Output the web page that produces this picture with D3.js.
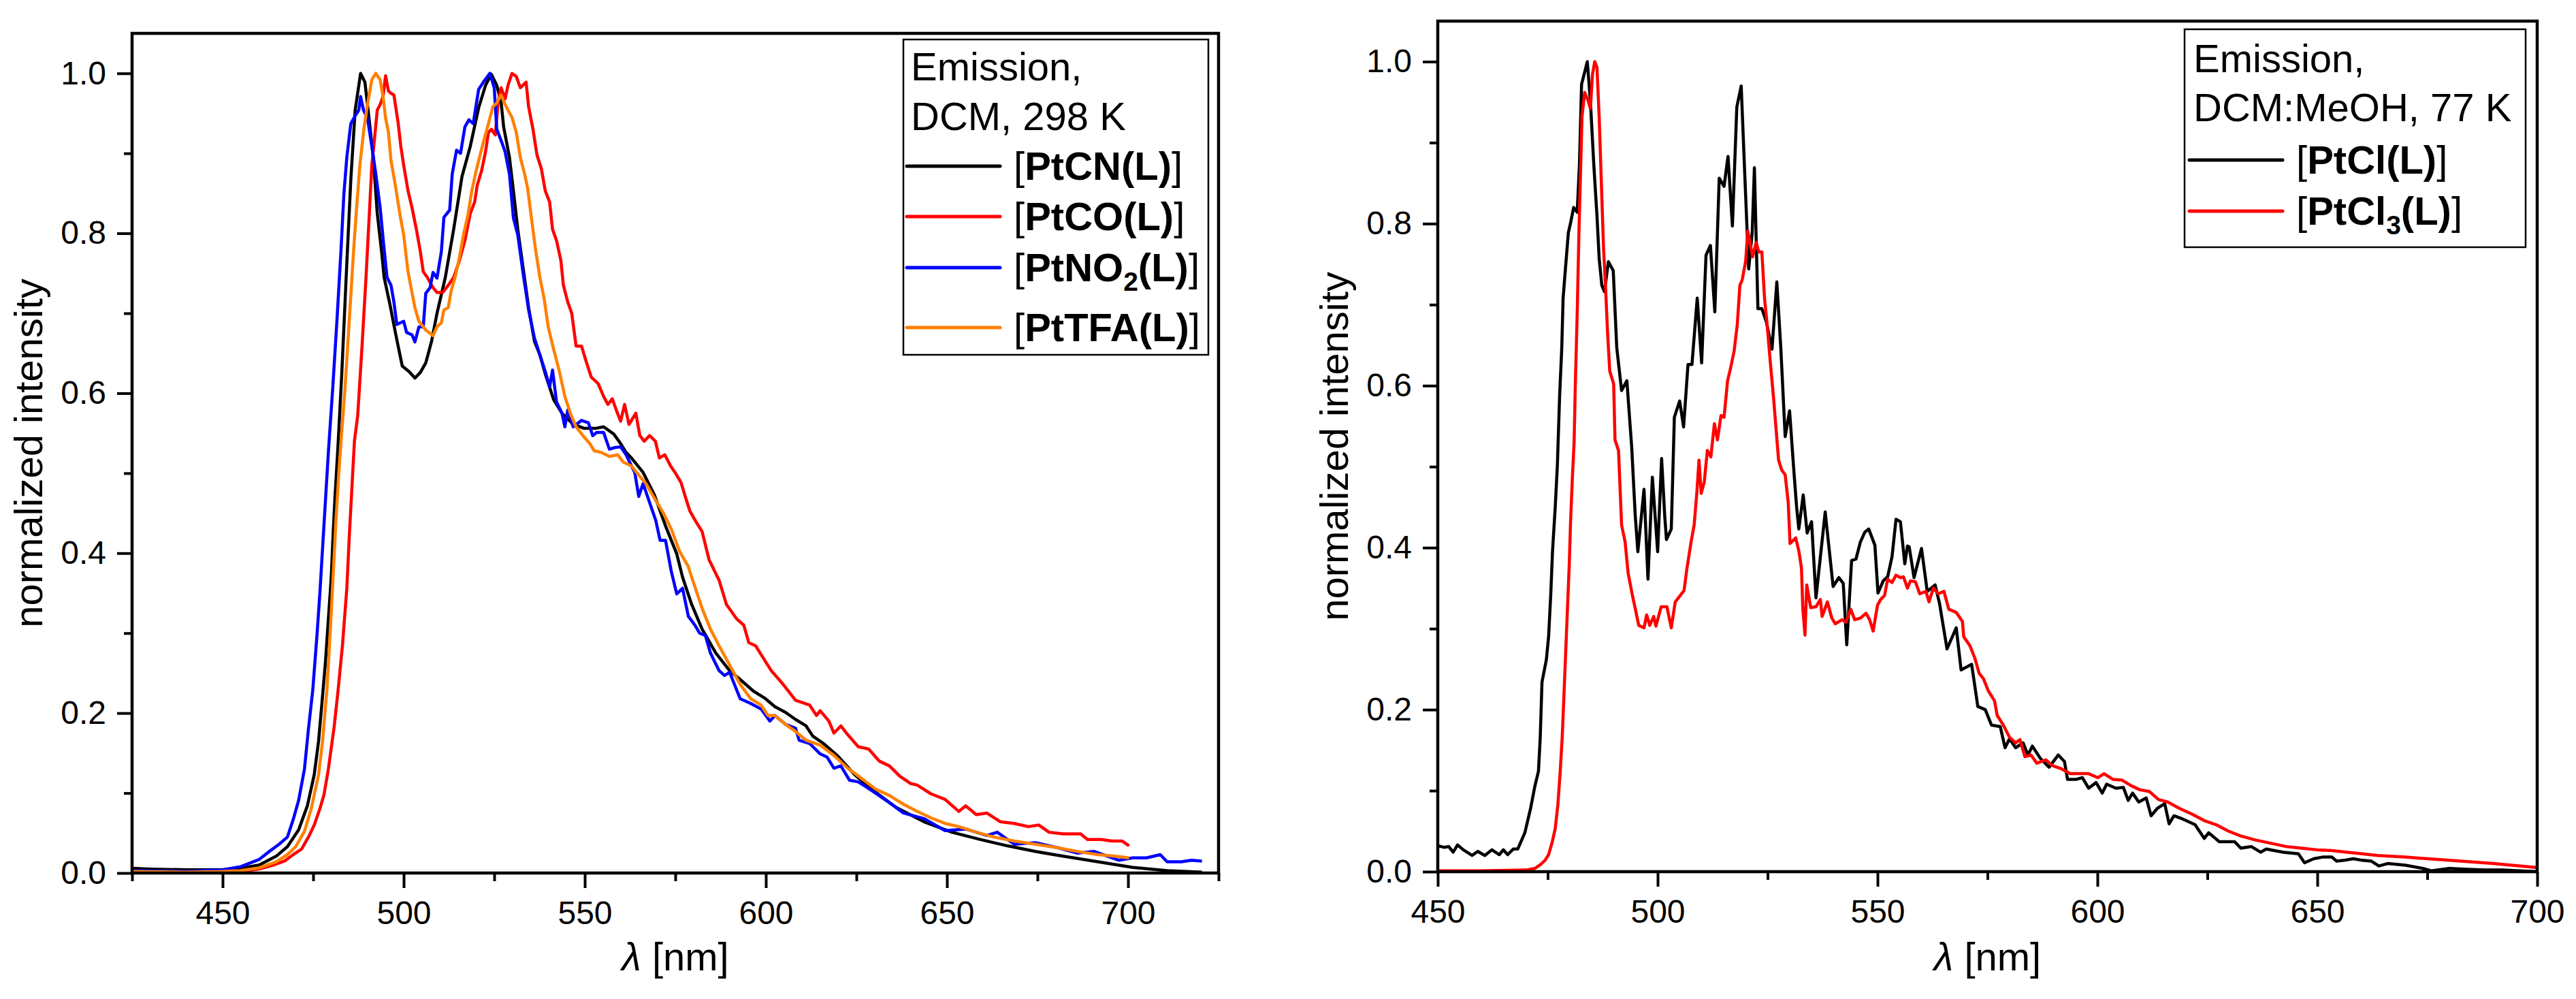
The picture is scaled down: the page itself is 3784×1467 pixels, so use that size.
<!DOCTYPE html>
<html>
<head>
<meta charset="utf-8">
<script src="https://cdn.jsdelivr.net/npm/d3@7"></script>
<style>
  body { margin: 0; background: #fff; }
  svg text { font-family: "Liberation Sans", Arial, sans-serif; }
</style>
</head>
<body>
<svg id="chart" width="3784" height="1467"></svg>
<script>
// ---- data: [wavelength nm, normalized intensity] ----
const ptCN = [[425,0.006],[430,0.005],[440,0.004],[450,0.004],[455,0.006],[460.1,0.010],[464.8,0.021],[467.9,0.033],[471.0,0.054],[473.4,0.084],[475.3,0.123],[476.5,0.165],[477.4,0.211],[478.4,0.264],[479.2,0.317],[480.0,0.370],[480.5,0.423],[481.1,0.476],[481.8,0.529],[482.9,0.624],[484.3,0.763],[485.4,0.867],[486.6,0.954],[488.1,1.0],[489.3,0.989],[490.0,0.961],[491.6,0.895],[492.7,0.825],[493.9,0.777],[494.6,0.745],[496.2,0.711],[497.7,0.676],[499.6,0.634],[501.5,0.627],[503.1,0.619],[504.6,0.626],[506.1,0.638],[507.7,0.665],[509.2,0.700],[511.5,0.745],[513.8,0.805],[516.1,0.871],[518.4,0.909],[520.7,0.957],[522.6,0.985],[524.2,0.999],[525.7,0.985],[526.9,0.964],[527.6,0.933],[529.2,0.895],[530.3,0.853],[531.5,0.805],[533.0,0.756],[534.5,0.707],[536.1,0.665],[537.6,0.648],[539.1,0.624],[541.4,0.592],[543.7,0.575],[546.8,0.561],[549.9,0.556],[552.9,0.556],[555.2,0.558],[558.0,0.549],[559.9,0.537],[561.4,0.526],[562.9,0.519],[566.1,0.501],[569.2,0.473],[572.3,0.434],[575.4,0.399],[577.0,0.370],[579.5,0.336],[582.4,0.305],[586.2,0.275],[590.0,0.253],[592.9,0.242],[596.7,0.227],[599.6,0.219],[602.5,0.208],[605.4,0.201],[608.2,0.192],[611.1,0.184],[613.0,0.171],[615.9,0.162],[619.7,0.147],[624.5,0.123],[630.3,0.101],[636.0,0.082],[643.7,0.064],[651.4,0.051],[659.1,0.042],[666.7,0.034],[674.4,0.027],[682.1,0.021],[691.7,0.014],[701.3,0.007],[710.8,0.003],[720.4,0.001]];

const ptCO = [[425,0.002],[440,0.001],[450,0.001],[455,0.002],[460.1,0.005],[464.0,0.010],[467.1,0.015],[469.5,0.023],[471.8,0.030],[473.7,0.045],[475.3,0.060],[476.9,0.081],[478.0,0.098],[479.2,0.130],[480.8,0.183],[481.9,0.229],[483.1,0.285],[484.3,0.356],[485.0,0.423],[485.8,0.490],[486.4,0.540],[487.3,0.572],[488.5,0.659],[489.6,0.745],[490.6,0.832],[491.2,0.885],[491.9,0.916],[492.7,0.954],[493.5,0.961],[494.3,0.971],[495.0,0.997],[495.8,0.978],[496.5,0.975],[497.3,0.973],[498.5,0.937],[499.2,0.909],[500.0,0.885],[501.2,0.853],[502.3,0.832],[503.5,0.805],[504.6,0.777],[505.4,0.752],[506.5,0.745],[508.1,0.732],[509.2,0.726],[510.8,0.726],[512.3,0.735],[513.8,0.745],[515.4,0.766],[516.9,0.791],[518.4,0.825],[519.6,0.839],[520.3,0.860],[521.5,0.878],[522.6,0.902],[523.4,0.926],[524.2,0.930],[525.3,0.923],[526.1,0.965],[526.9,0.982],[528.0,0.968],[528.8,0.985],[529.9,1.0],[531.1,0.996],[532.2,0.982],[533.8,0.989],[534.5,0.958],[535.7,0.930],[536.8,0.898],[538.0,0.881],[539.1,0.853],[540.3,0.839],[541.1,0.805],[542.2,0.791],[543.4,0.766],[544.1,0.735],[545.3,0.714],[546.4,0.700],[547.6,0.659],[549.1,0.659],[550.3,0.641],[551.8,0.620],[553.7,0.612],[555.2,0.596],[556.4,0.586],[557.6,0.593],[558.7,0.579],[559.9,0.565],[561.0,0.586],[562.2,0.561],[564.1,0.575],[565.2,0.547],[566.4,0.540],[567.9,0.547],[569.5,0.540],[570.6,0.519],[572.1,0.523],[573.7,0.509],[575.2,0.499],[576.6,0.488],[577.8,0.470],[579.0,0.453],[580.6,0.440],[582.4,0.427],[584.3,0.392],[587.1,0.366],[589.1,0.336],[591.9,0.318],[593.9,0.310],[595.3,0.288],[597.2,0.284],[598.7,0.273],[601.5,0.253],[604.4,0.238],[606.3,0.227],[608.2,0.216],[612.1,0.210],[614.0,0.197],[615.0,0.203],[617.4,0.190],[618.8,0.175],[620.7,0.184],[622.6,0.173],[625.5,0.158],[628.4,0.155],[631.3,0.140],[634.1,0.134],[637.0,0.121],[639.9,0.112],[641.8,0.110],[645.6,0.099],[649.5,0.092],[653.3,0.077],[655.2,0.084],[658.1,0.073],[661.0,0.075],[664.8,0.064],[668.6,0.062],[672.5,0.058],[675.4,0.060],[678.2,0.051],[682.1,0.049],[686.9,0.049],[688.8,0.042],[692.6,0.042],[695.5,0.040],[698.4,0.040],[700.3,0.034]];

const ptNO2 = [[425,0.003],[440,0.002],[450,0.004],[455,0.008],[460.1,0.017],[463.2,0.028],[465.6,0.036],[467.9,0.045],[469.5,0.067],[471.0,0.091],[472.6,0.130],[473.7,0.180],[474.9,0.229],[476.1,0.300],[476.9,0.353],[477.6,0.406],[478.4,0.466],[479.2,0.526],[480.4,0.606],[481.6,0.693],[482.7,0.780],[483.5,0.850],[484.3,0.895],[485.4,0.937],[486.6,0.947],[487.6,0.954],[488.1,0.971],[488.9,0.954],[490.0,0.944],[491.2,0.909],[492.3,0.874],[493.5,0.832],[494.6,0.780],[495.4,0.745],[496.5,0.735],[497.3,0.714],[498.1,0.686],[500.0,0.690],[500.8,0.676],[502.3,0.673],[503.1,0.664],[504.2,0.683],[505.4,0.683],[506.1,0.725],[507.3,0.732],[508.1,0.751],[509.2,0.744],[510.4,0.777],[511.1,0.820],[512.7,0.829],[513.4,0.874],[514.6,0.904],[515.7,0.900],[516.9,0.933],[518.0,0.942],[519.2,0.937],[520.7,0.980],[522.3,0.991],[523.8,1.0],[525.0,0.982],[525.7,0.930],[526.9,0.916],[528.0,0.902],[529.2,0.874],[530.3,0.819],[531.5,0.798],[533.0,0.749],[534.5,0.704],[536.1,0.669],[537.6,0.648],[539.1,0.627],[540.3,0.608],[541.1,0.629],[542.2,0.589],[543.7,0.575],[544.5,0.558],[545.3,0.579],[546.8,0.558],[549.1,0.566],[551.0,0.563],[552.2,0.547],[553.3,0.551],[555.2,0.551],[556.8,0.530],[558.3,0.532],[559.9,0.533],[561.4,0.523],[562.9,0.509],[563.8,0.501],[564.9,0.471],[566.1,0.487],[568.0,0.462],[569.6,0.441],[570.8,0.416],[572.3,0.416],[573.9,0.377],[575.4,0.349],[577.0,0.356],[578.6,0.321],[580.4,0.310],[581.7,0.300],[583.3,0.297],[584.7,0.275],[587.1,0.253],[588.6,0.247],[590.0,0.251],[592.9,0.218],[595.8,0.212],[598.7,0.205],[601.1,0.190],[602.5,0.197],[605.4,0.186],[608.2,0.181],[609.2,0.166],[612.1,0.162],[615.0,0.149],[616.9,0.145],[618.8,0.131],[620.7,0.134],[623.1,0.116],[625.5,0.114],[629.3,0.103],[634.1,0.088],[638.0,0.075],[643.7,0.068],[649.5,0.053],[655.2,0.055],[661.0,0.047],[663.9,0.051],[668.6,0.036],[674.4,0.038],[680.2,0.032],[685.9,0.025],[690.7,0.027],[697.4,0.016],[701.3,0.019],[705.1,0.019],[708.9,0.023],[710.8,0.014],[714.7,0.014],[717.5,0.016],[720.4,0.015]];

const ptTFA = [[425,0.002],[440,0.001],[450,0.002],[455,0.003],[460.1,0.0065],[464.8,0.014],[467.9,0.023],[470.2,0.033],[472.6,0.052],[474.5,0.081],[476.5,0.123],[477.6,0.165],[478.8,0.229],[479.7,0.300],[480.5,0.370],[481.3,0.441],[482.1,0.501],[482.7,0.540],[483.8,0.606],[485.0,0.693],[486.2,0.780],[487.0,0.832],[487.9,0.885],[489.0,0.930],[490.0,0.961],[491.2,0.992],[492.3,1.0],[493.5,0.992],[494.3,0.971],[495.0,0.944],[495.8,0.926],[496.5,0.891],[497.7,0.860],[498.9,0.825],[500.0,0.798],[501.2,0.752],[501.9,0.735],[503.1,0.707],[504.2,0.690],[506.1,0.679],[508.1,0.672],[509.2,0.683],[510.4,0.688],[511.1,0.704],[512.3,0.707],[513.1,0.728],[514.2,0.745],[515.4,0.770],[516.5,0.798],[517.7,0.822],[518.8,0.853],[520.0,0.878],[521.1,0.898],[522.3,0.919],[523.4,0.937],[524.6,0.958],[525.7,0.963],[526.9,0.973],[527.6,0.965],[528.8,0.954],[529.9,0.945],[531.1,0.926],[532.2,0.895],[533.4,0.874],[534.2,0.857],[535.3,0.818],[536.5,0.777],[537.6,0.745],[538.8,0.718],[539.9,0.683],[541.4,0.655],[543.0,0.627],[544.5,0.596],[546.0,0.575],[547.6,0.558],[549.5,0.547],[551.4,0.537],[552.6,0.528],[554.5,0.526],[556.8,0.521],[559.1,0.523],[560.6,0.514],[562.9,0.509],[565.2,0.496],[566.9,0.487],[569.2,0.469],[571.6,0.451],[573.9,0.430],[576.2,0.402],[578.5,0.384],[580.4,0.358],[582.4,0.331],[584.7,0.305],[587.1,0.284],[590.0,0.260],[592.9,0.236],[595.8,0.218],[598.7,0.210],[600.6,0.197],[602.5,0.197],[605.4,0.186],[608.2,0.177],[611.1,0.166],[615.0,0.160],[618.8,0.147],[622.6,0.131],[626.5,0.118],[630.3,0.105],[634.1,0.097],[638.0,0.086],[641.8,0.077],[645.6,0.069],[649.5,0.062],[653.3,0.058],[658.1,0.051],[662.9,0.045],[668.6,0.040],[674.4,0.036],[680.2,0.032],[685.9,0.027],[691.7,0.023],[696.5,0.021],[700.3,0.019]];

const ptCl = [[450,0.032],[451.5,0.030],[452.5,0.031],[453.5,0.024],[454.5,0.033],[455.8,0.027],[457.8,0.020],[459.1,0.025],[460.7,0.020],[462.3,0.027],[464.0,0.021],[464.9,0.027],[465.9,0.021],[467.2,0.028],[468.2,0.028],[469.8,0.048],[471.1,0.078],[472.1,0.106],[472.9,0.124],[473.3,0.166],[473.7,0.234],[474.7,0.262],[475.2,0.290],[475.7,0.343],[476.1,0.396],[476.7,0.449],[477.2,0.502],[477.7,0.586],[478.2,0.647],[478.5,0.708],[479.1,0.749],[479.7,0.789],[480.2,0.801],[480.9,0.820],[481.7,0.814],[482.2,0.871],[482.7,0.972],[483.4,0.987],[484.0,1.0],[484.7,0.952],[485.5,0.871],[486.2,0.810],[486.7,0.757],[487.3,0.724],[487.9,0.716],[488.8,0.753],[489.9,0.742],[490.7,0.647],[491.8,0.594],[493.0,0.606],[494.1,0.524],[494.9,0.440],[495.5,0.395],[496.9,0.472],[497.8,0.361],[498.8,0.487],[500.0,0.395],[500.9,0.510],[501.6,0.440],[502.0,0.410],[503.1,0.423],[503.8,0.561],[505.0,0.581],[505.9,0.549],[506.9,0.626],[507.8,0.626],[509.0,0.708],[510.0,0.628],[511.0,0.761],[512.0,0.773],[513.0,0.691],[514.0,0.856],[515.1,0.846],[516.0,0.883],[517.0,0.797],[518.0,0.944],[519.0,0.970],[519.8,0.862],[520.7,0.744],[521.5,0.789],[522.0,0.869],[522.8,0.695],[523.7,0.695],[524.7,0.679],[526.0,0.645],[527.1,0.728],[528.0,0.647],[529.0,0.537],[530.0,0.569],[530.9,0.500],[531.6,0.450],[532.1,0.423],[533.1,0.465],[534.0,0.418],[535.0,0.432],[536.0,0.338],[538.1,0.444],[539.9,0.352],[541.2,0.363],[542.2,0.356],[543.0,0.280],[544.1,0.384],[545.1,0.386],[546.1,0.407],[547.1,0.419],[548.0,0.423],[549.4,0.403],[550.1,0.344],[551.3,0.359],[552.3,0.364],[553.3,0.389],[554.2,0.435],[555.2,0.432],[556.2,0.380],[556.8,0.402],[557.2,0.401],[558.3,0.363],[560.0,0.399],[561.3,0.346],[563.1,0.354],[564.1,0.331],[565.8,0.275],[567.9,0.301],[569.0,0.249],[571.4,0.256],[572.8,0.204],[574.5,0.200],[575.9,0.181],[577.9,0.179],[579.0,0.153],[580.0,0.164],[581.4,0.153],[583.1,0.159],[584.2,0.144],[585.2,0.155],[587.0,0.140],[589.0,0.129],[591.1,0.144],[592.5,0.136],[593.2,0.114],[595.2,0.114],[596.6,0.116],[598.0,0.103],[599.7,0.110],[601.1,0.097],[602.1,0.108],[604.2,0.103],[605.9,0.104],[607.0,0.088],[608.0,0.097],[609.4,0.086],[611.1,0.091],[612.2,0.069],[613.6,0.078],[615.3,0.084],[616.3,0.059],[617.4,0.069],[619.4,0.065],[622.2,0.058],[624.3,0.041],[625.3,0.048],[627.7,0.037],[631.2,0.037],[632.6,0.029],[635.0,0.031],[637.1,0.024],[638.4,0.028],[640.2,0.026],[642.3,0.024],[645.7,0.022],[647.1,0.011],[649.2,0.016],[651.2,0.018],[653.3,0.018],[654.4,0.013],[656.1,0.014],[658.2,0.016],[660.2,0.014],[662.3,0.013],[664.0,0.007],[666,0.010],[670,0.008],[674,0.004],[676,0.001],[680,0.004],[684,0.003],[688,0.002],[692,0.002],[696,0.001],[700,0.000]];

const ptCl3 = [[450,0.001],[460,0.001],[470,0.002],[472.1,0.004],[473.4,0.009],[474.4,0.014],[475.2,0.021],[476.0,0.036],[476.7,0.053],[477.3,0.082],[477.8,0.120],[478.3,0.166],[478.7,0.219],[479.1,0.272],[479.5,0.326],[479.9,0.379],[480.2,0.432],[480.6,0.485],[481.0,0.530],[481.3,0.606],[481.7,0.687],[482.1,0.789],[482.5,0.871],[482.8,0.932],[483.4,0.962],[484.2,0.952],[484.7,0.942],[485.2,0.985],[485.7,1.0],[486.2,0.993],[486.7,0.932],[487.2,0.850],[487.7,0.769],[488.1,0.728],[488.6,0.667],[489.1,0.618],[490.0,0.602],[490.3,0.533],[491.1,0.520],[491.8,0.428],[492.6,0.407],[493.3,0.368],[494.3,0.340],[494.9,0.325],[495.7,0.304],[496.9,0.301],[497.5,0.317],[498.2,0.304],[499.1,0.315],[499.6,0.303],[500.8,0.327],[502.1,0.327],[503.1,0.301],[504.0,0.333],[505.0,0.340],[506.0,0.347],[506.6,0.372],[507.6,0.407],[508.3,0.428],[508.9,0.467],[509.4,0.508],[509.9,0.467],[510.6,0.481],[511.3,0.520],[512.1,0.512],[512.9,0.553],[513.6,0.533],[514.4,0.563],[515.1,0.561],[515.9,0.606],[516.6,0.622],[517.4,0.643],[518.1,0.675],[518.7,0.724],[519.2,0.730],[520.0,0.753],[520.5,0.791],[521.1,0.773],[521.6,0.759],[522.4,0.777],[523.0,0.765],[523.7,0.765],[524.3,0.708],[524.9,0.675],[525.6,0.630],[526.4,0.582],[527.5,0.508],[528.2,0.496],[529.0,0.490],[529.7,0.455],[530.1,0.405],[531.4,0.412],[532.1,0.396],[532.7,0.375],[533.0,0.326],[533.5,0.292],[533.9,0.354],[534.8,0.326],[536.0,0.327],[537.0,0.336],[537.4,0.315],[538.6,0.333],[539.6,0.313],[540.4,0.306],[541.9,0.311],[542.8,0.308],[543.9,0.324],[544.8,0.311],[546.1,0.313],[547.4,0.319],[548.2,0.311],[549.0,0.297],[550.0,0.329],[550.7,0.336],[551.6,0.341],[552.3,0.361],[553.3,0.357],[554.2,0.366],[555.2,0.363],[555.9,0.364],[556.8,0.350],[557.5,0.359],[558.6,0.358],[559.6,0.343],[561.0,0.346],[561.7,0.333],[562.7,0.350],[563.8,0.343],[565.1,0.346],[566.2,0.324],[567.9,0.320],[569.3,0.309],[569.6,0.290],[571.0,0.279],[572.1,0.264],[573.1,0.245],[574.1,0.238],[575.2,0.223],[576.6,0.211],[577.2,0.193],[578.6,0.181],[580.0,0.166],[581.4,0.159],[582.4,0.163],[583.5,0.142],[584.9,0.144],[586.2,0.134],[588.3,0.138],[589.7,0.131],[591.8,0.127],[593.8,0.121],[595.9,0.121],[598.0,0.121],[600.1,0.116],[601.5,0.121],[603.5,0.114],[605.6,0.113],[607.7,0.106],[609.7,0.101],[611.8,0.099],[613.9,0.089],[616.0,0.086],[618.7,0.078],[621.5,0.071],[624.3,0.063],[627.0,0.058],[629.8,0.050],[632.6,0.044],[636.0,0.039],[639.5,0.035],[642.9,0.031],[646.4,0.029],[649.9,0.027],[653.3,0.026],[656.8,0.024],[660.2,0.022],[663.7,0.020],[670,0.018],[680,0.014],[690,0.010],[700,0.005]];

// tick values
const xMajorLeft = [450, 500, 550, 600, 650, 700];
const xMinorLeft = [425, 475, 525, 575, 625, 675, 725];
const xMajorRight = [450, 500, 550, 600, 650, 700];
const xMinorRight = [475, 525, 575, 625, 675];
const yMajor = [0, 0.2, 0.4, 0.6, 0.8, 1.0];
const yMinor = [0.1, 0.3, 0.5, 0.7, 0.9];

// legend texts
const headerLeft = ['Emission,', 'DCM, 298 K'];
const headerRight = ['Emission,', 'DCM:MeOH, 77 K'];
const namesLeft = [['PtCN(L)'], ['PtCO(L)'], ['PtNO', '2', '(L)'], ['PtTFA(L)']];
const namesRight = [['PtCl(L)'], ['PtCl', '3', '(L)']];
const colorsLeft = ['#000000', '#ff0000', '#0000ff', '#ff8000'];
const colorsRight = ['#000000', '#ff0000'];

const svg = d3.select('#chart');
svg.append('rect').attr('width', 3784).attr('height', 1467).attr('fill', '#fff');

const panels = [
    {
        left: 194, right: 1790, top: 49, bottom: 1282,
        xDomain: [425, 725], xMajor: xMajorLeft, xMinor: xMinorLeft,
        series: [ptCN, ptCO, ptNO2, ptTFA], colors: colorsLeft,
        header: headerLeft, names: namesLeft,
        legend: { x: 1327, y: 58, w: 448, h: 463, headX: 1338, headY: [118, 191],
                  entryY: [264, 338, 413, 501], lineX: [1332, 1469], textX: 1489 }
    },
    {
        left: 2112, right: 3727, top: 31, bottom: 1280,
        xDomain: [450, 700], xMajor: xMajorRight, xMinor: xMinorRight,
        series: [ptCl, ptCl3], colors: colorsRight,
        header: headerRight, names: namesRight,
        legend: { x: 3209, y: 43, w: 501, h: 320, headX: 3222, headY: [106, 178],
                  entryY: [255, 330], lineX: [3216, 3353], textX: 3373 }
    }
];

const tickFont = 48;
const titleFont = 58;
const legendFont = 58;

panels.forEach(drawPanel);

function drawPanel(p) {
    const x = d3.scaleLinear().domain(p.xDomain).range([p.left, p.right]);
    const y = d3.scaleLinear().domain([0, 1.05]).range([p.bottom, p.top]);

    const g = svg.append('g');

    // spectra
    const line = d3.line()
        .x(d => x(d[0]))
        .y(d => y(d[1]));

    g.selectAll('path.spec')
        .data(p.series)
        .join('path')
        .attr('class', 'spec')
        .attr('fill', 'none')
        .attr('stroke', (d, i) => p.colors[i])
        .attr('stroke-width', 4.5)
        .attr('stroke-linejoin', 'round')
        .attr('d', line);

    // axes: major + minor ticks, outward
    g.append('g')
        .attr('transform', `translate(0,${p.bottom})`)
        .call(d3.axisBottom(x).tickValues(p.xMajor).tickSize(22).tickSizeOuter(0)
            .tickPadding(19).tickFormat(d3.format('d')));
    g.append('g')
        .attr('transform', `translate(0,${p.bottom})`)
        .call(d3.axisBottom(x).tickValues(p.xMinor).tickSize(12).tickSizeOuter(0).tickFormat(''));

    g.append('g')
        .attr('transform', `translate(${p.left},0)`)
        .call(d3.axisLeft(y).tickValues(yMajor).tickSize(22).tickSizeOuter(0)
            .tickPadding(16).tickFormat(d3.format('.1f')));
    g.append('g')
        .attr('transform', `translate(${p.left},0)`)
        .call(d3.axisLeft(y).tickValues(yMinor).tickSize(12).tickSizeOuter(0).tickFormat(''));

    g.selectAll('.domain').remove();
    g.selectAll('.tick line').attr('stroke', '#000').attr('stroke-width', 4);
    g.selectAll('.tick text')
        .attr('fill', '#000')
        .attr('font-size', tickFont)
        .attr('font-family', '"Liberation Sans", Arial, sans-serif');

    // frame
    g.append('rect')
        .attr('x', p.left).attr('y', p.top)
        .attr('width', p.right - p.left).attr('height', p.bottom - p.top)
        .attr('fill', 'none').attr('stroke', '#000').attr('stroke-width', 4.5);

    // axis titles
    const cx = (p.left + p.right) / 2;
    const xt = g.append('text')
        .attr('x', cx).attr('y', 1425)
        .attr('text-anchor', 'middle')
        .attr('font-size', titleFont);
    xt.append('tspan').attr('font-style', 'italic').text('λ');
    xt.append('tspan').text(' [nm]');

    g.append('text')
        .attr('transform', `translate(${p.left - 132},${(p.top + p.bottom) / 2}) rotate(-90)`)
        .attr('text-anchor', 'middle')
        .attr('font-size', titleFont)
        .text('normalized intensity');

    // legend
    const L = p.legend;
    g.append('rect')
        .attr('x', L.x).attr('y', L.y).attr('width', L.w).attr('height', L.h)
        .attr('fill', '#fff').attr('stroke', '#000').attr('stroke-width', 2.5);

    p.header.forEach((t, i) => {
        g.append('text')
            .attr('x', L.headX).attr('y', L.headY[i])
            .attr('font-size', legendFont)
            .text(t);
    });

    p.names.forEach((parts, i) => {
        const ly = L.entryY[i] - 20;
        g.append('line')
            .attr('x1', L.lineX[0]).attr('x2', L.lineX[1])
            .attr('y1', ly).attr('y2', ly)
            .attr('stroke', p.colors[i]).attr('stroke-width', 5)
            .attr('stroke-linecap', 'round');

        const t = g.append('text')
            .attr('x', L.textX).attr('y', L.entryY[i])
            .attr('font-size', legendFont);
        t.append('tspan').text('[');
        parts.forEach((s, k) => {
            const sub = parts.length === 3 && k === 1;
            const ts = t.append('tspan').attr('font-weight', 'bold').text(s);
            if (sub) ts.attr('font-size', 39).attr('dy', 14);
            else if (parts.length === 3 && k === 2) ts.attr('dy', -14);
        });
        t.append('tspan').text(']');
    });
}
</script>
</body>
</html>
